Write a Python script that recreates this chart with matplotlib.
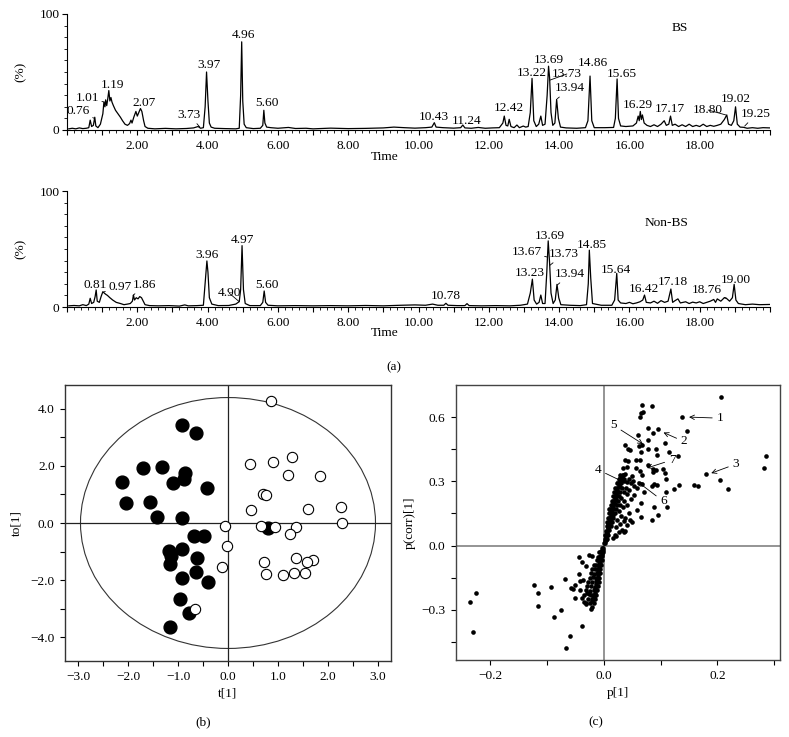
import matplotlib.pyplot as plt
from matplotlib.patches import Ellipse
from matplotlib.ticker import MultipleLocator, FixedLocator, FuncFormatter

plt.rcParams['font.family'] = ['Liberation Serif', 'DejaVu Serif']
plt.rcParams['font.size'] = 9.6

# ---- chromatogram traces (time, intensity %) ----
bs_trace = [(0.05, 1.0), (0.15, 1.5), (0.25, 1.0), (0.35, 1.8), (0.45, 1.2), (0.55, 1.5), (0.62, 2.0),
            (0.66, 8.5), (0.70, 3.0), (0.75, 4.0), (0.79, 11.0), (0.82, 3.5), (0.88, 2.0), (0.95, 5.0),
            (1.02, 14), (1.05, 24), (1.08, 20), (1.10, 26), (1.13, 21), (1.16, 27), (1.19, 34), (1.22, 25),
            (1.25, 28), (1.28, 24), (1.32, 21), (1.38, 17), (1.45, 14), (1.52, 11), (1.58, 8), (1.65, 5),
            (1.72, 4), (1.78, 5.5), (1.82, 8.5), (1.85, 6), (1.90, 11), (1.96, 16), (2.00, 12), (2.04, 15),
            (2.09, 18.5), (2.13, 16), (2.18, 8), (2.22, 3), (2.30, 1.5), (2.50, 1.0), (2.80, 1.4), (3.10, 1.0),
            (3.40, 1.3), (3.60, 1.8), (3.73, 3.0), (3.80, 1.5), (3.88, 2.0), (3.93, 20), (3.97, 50), (4.01, 25),
            (4.05, 6), (4.10, 2.5), (4.20, 1.5), (4.50, 1.2), (4.80, 1.0), (4.90, 1.5), (4.94, 30), (4.97, 76),
            (5.00, 25), (5.04, 5), (5.10, 2), (5.30, 1.2), (5.50, 1.5), (5.57, 4), (5.60, 17), (5.63, 6),
            (5.68, 2.5), (5.80, 2.0), (6.00, 1.5), (6.30, 2.2), (6.50, 1.3), (6.80, 1.5), (7.00, 1.0),
            (7.50, 1.6), (8.00, 1.2), (8.50, 1.4), (9.00, 1.8), (9.30, 2.5), (9.60, 2.0), (9.90, 1.6),
            (10.20, 2.0), (10.38, 2.5), (10.45, 6.3), (10.50, 2.5), (10.70, 2.0), (11.00, 1.6), (11.20, 2.0),
            (11.26, 4.3), (11.32, 1.8), (11.50, 1.5), (11.70, 2.2), (11.90, 1.5), (12.10, 1.8), (12.30, 2.0),
            (12.40, 6), (12.44, 12), (12.49, 4), (12.54, 3.5), (12.58, 9.2), (12.63, 3), (12.72, 2),
            (12.80, 4.3), (12.87, 2), (12.98, 3.4), (13.05, 2.5), (13.12, 3), (13.18, 15), (13.23, 44.5),
            (13.28, 8), (13.35, 3), (13.42, 5), (13.48, 12), (13.53, 4), (13.60, 5), (13.66, 30), (13.70, 55),
            (13.73, 45), (13.77, 15), (13.82, 4), (13.88, 6), (13.93, 26.4), (13.98, 10), (14.04, 2.5),
            (14.20, 1.8), (14.50, 1.5), (14.75, 2), (14.82, 8), (14.88, 46.5), (14.93, 8), (15.00, 2),
            (15.30, 2.0), (15.55, 2.2), (15.60, 10), (15.65, 44), (15.69, 10), (15.75, 3.5), (15.90, 3.0),
            (16.10, 3.5), (16.20, 6), (16.25, 12), (16.28, 8), (16.31, 16), (16.34, 9), (16.37, 13),
            (16.42, 6), (16.50, 4), (16.60, 3), (16.70, 4.5), (16.80, 3), (16.90, 5), (16.99, 8), (17.05, 4),
            (17.12, 5), (17.17, 12), (17.22, 4), (17.30, 5), (17.40, 3), (17.50, 4.5), (17.60, 3), (17.70, 5),
            (17.80, 3), (17.90, 4), (18.00, 3), (18.10, 5), (18.20, 3), (18.30, 4), (18.40, 3.2), (18.50, 4),
            (18.60, 5), (18.70, 9), (18.77, 13), (18.82, 5), (18.90, 4), (18.97, 8), (19.02, 20), (19.07, 5),
            (19.15, 2.5), (19.25, 2.3), (19.35, 1.5), (19.50, 2), (19.65, 1.5), (19.80, 2.0), (20.00, 1.8)]

nonbs_trace = [(0.05, 1.0), (0.20, 1.3), (0.35, 1.0), (0.45, 2.0), (0.55, 1.2), (0.62, 2.5), (0.66, 7.5),
               (0.70, 3), (0.76, 4), (0.80, 9), (0.83, 14.7), (0.86, 5), (0.92, 4), (0.97, 9), (1.02, 13.2),
               (1.06, 12), (1.10, 11), (1.15, 10), (1.22, 8), (1.30, 6), (1.40, 4), (1.52, 3), (1.62, 2.0),
               (1.72, 2.5), (1.80, 3), (1.86, 5), (1.89, 10.3), (1.92, 6), (1.97, 8), (2.02, 7), (2.07, 9),
               (2.12, 8), (2.17, 5), (2.22, 2), (2.35, 1.2), (2.60, 1.0), (2.90, 1.2), (3.20, 0.8), (3.35, 1.8),
               (3.45, 1.0), (3.70, 1.2), (3.88, 1.5), (3.94, 25), (3.98, 39.7), (4.01, 30), (4.05, 8),
               (4.12, 2.5), (4.30, 1.2), (4.60, 1.3), (4.80, 2.5), (4.90, 4.6), (4.94, 15), (4.98, 52.9),
               (5.02, 15), (5.07, 3), (5.20, 1.2), (5.50, 1.2), (5.57, 4), (5.61, 13.8), (5.65, 4), (5.72, 1.5),
               (6.00, 1.0), (6.50, 1.2), (7.00, 1.0), (7.50, 1.2), (8.00, 1.0), (8.50, 1.3), (9.00, 1.0),
               (9.50, 1.5), (9.90, 1.8), (10.20, 1.5), (10.40, 2.5), (10.55, 1.5), (10.72, 1.5), (10.78, 3.2),
               (10.84, 1.5), (11.10, 1.2), (11.32, 1.2), (11.38, 2.9), (11.44, 1.2), (11.80, 1.0), (12.20, 1.2),
               (12.60, 1.0), (12.90, 1.5), (13.10, 2.5), (13.18, 12), (13.24, 24), (13.29, 6), (13.36, 2.5),
               (13.43, 4), (13.48, 10.3), (13.53, 3), (13.60, 3), (13.65, 30), (13.69, 57), (13.73, 37.6),
               (13.77, 12), (13.83, 3), (13.89, 6), (13.94, 19.5), (13.99, 8), (14.05, 2), (14.30, 1.5),
               (14.60, 1.2), (14.78, 2), (14.83, 20), (14.86, 49), (14.90, 25), (14.95, 3), (15.20, 1.5),
               (15.50, 1.5), (15.58, 6), (15.64, 29), (15.68, 6), (15.75, 3.5), (15.90, 3), (16.00, 4),
               (16.10, 2.8), (16.20, 3.5), (16.30, 4.5), (16.38, 6), (16.43, 10.3), (16.48, 4), (16.60, 3.5),
               (16.70, 5), (16.80, 3.2), (16.90, 5.5), (17.00, 4), (17.10, 5), (17.18, 15.5), (17.23, 4),
               (17.30, 5.5), (17.38, 7), (17.45, 3.5), (17.60, 4.5), (17.70, 3), (17.80, 4.2), (17.90, 3.5),
               (18.00, 4.5), (18.10, 3), (18.20, 4), (18.30, 5), (18.40, 6.5), (18.45, 4), (18.50, 7),
               (18.60, 5), (18.70, 8), (18.76, 7.5), (18.85, 5), (18.93, 8), (18.98, 19.5), (19.03, 6),
               (19.10, 3), (19.30, 2), (19.50, 2.5), (19.70, 2), (20.00, 2.2)]

# peak labels: (text, label time, label height, leader target or None)
bs_labels = [("0.76", 0.32, 16.4, (0.78, 10)), ("1.01", 0.58, 27.8, (1.07, 24)), ("1.19", 1.31, 38.8, None),
             ("2.07", 2.19, 23, None), ("3.73", 3.48, 13, (3.78, 2.5)), ("3.97", 4.05, 56, None),
             ("4.96", 5.03, 82, None), ("5.60", 5.68, 23, None), ("10.43", 10.43, 11.5, None),
             ("11.24", 11.38, 8, None), ("12.42", 12.56, 18.7, None), ("13.22", 13.22, 49.4, None),
             ("13.69", 13.72, 60.3, None), ("13.73", 14.22, 48.3, (13.74, 43)),
             ("13.94", 14.31, 36, (13.95, 27)), ("14.86", 14.96, 57.5, None), ("15.65", 15.78, 48, None),
             ("16.29", 16.23, 21.5, None), ("17.17", 17.15, 17.8, None), ("18.80", 18.24, 17.2, (18.74, 13)),
             ("19.02", 19.04, 26.4, None), ("19.25", 19.61, 13.8, (19.28, 3.4))]

nonbs_labels = [("0.81", 0.79, 19, None), ("0.97", 1.50, 17.5, (1.05, 13)), ("1.86", 2.21, 19, (1.88, 10)),
                ("3.96", 3.98, 44.8, None), ("4.90", 4.62, 11.8, (4.90, 4.6)), ("4.97", 5.0, 57.8, None),
                ("5.60", 5.68, 19, None), ("10.78", 10.77, 9.5, None), ("13.23", 13.18, 29, None),
                ("13.67", 13.08, 47.7, (13.67, 43)), ("13.69", 13.74, 61.2, None),
                ("13.73", 14.14, 45.7, (13.74, 36)), ("13.94", 14.31, 28.4, (13.95, 19)),
                ("14.85", 14.93, 53.4, None), ("15.64", 15.62, 31.9, None), ("16.42", 16.41, 15.5, None),
                ("17.18", 17.23, 21.8, None), ("18.76", 18.19, 14.7, (18.76, 7.5)), ("19.00", 19.04, 23.3, None)]

# ---- OPLS-DA score plot ----
bs_t1 = [-0.93, -0.65, -1.71, -1.33, -0.87, -0.88, -2.13, -1.11, -0.43, -2.04, -1.57, -1.43, -0.92, -0.69,
         -0.49, -0.92, -1.19, -1.14, -0.63, -1.16, -0.64, -0.92, -0.41, -0.97, -0.79, -1.16, 0.79]
bs_to1 = [3.42, 3.15, 1.92, 1.98, 1.77, 1.54, 1.43, 1.40, 1.23, 0.71, 0.74, 0.22, 0.19, -0.47,
          -0.47, -0.92, -0.99, -1.15, -1.24, -1.44, -1.72, -1.93, -2.07, -2.67, -3.17, -3.66, -0.19]
non_t1 = [0.85, 0.44, 0.90, 1.27, 1.19, 1.84, 0.70, 0.75, 0.45, 1.60, 2.25, 2.27, -0.06, 0.65, 0.93, 1.36,
          1.23, -0.03, 1.36, 1.70, 1.58, 0.71, -0.13, 0.75, 1.09, 1.31, 1.54, -0.67]
non_to1 = [4.28, 2.08, 2.13, 2.30, 1.68, 1.65, 1.03, 0.97, 0.47, 0.50, 0.57, 0.01, -0.12, -0.12, -0.15, -0.13,
           -0.39, -0.82, -1.22, -1.30, -1.38, -1.38, -1.53, -1.79, -1.82, -1.74, -1.74, -3.02]

# ---- S-plot: (p[1], p(corr)[1]) ----
splot_upper = [(0.206, 0.692), (0.067, 0.657), (0.084, 0.651), (0.065, 0.618), (0.064, 0.600), (0.069, 0.626),
               (0.137, 0.600), (0.147, 0.537), (0.077, 0.551), (0.096, 0.544), (0.087, 0.528), (0.108, 0.478),
               (0.061, 0.517), (0.078, 0.494), (0.067, 0.470), (0.062, 0.466), (0.038, 0.469), (0.046, 0.447),
               (0.042, 0.450), (0.065, 0.439), (0.077, 0.450), (0.092, 0.450), (0.115, 0.439), (0.093, 0.421),
               (0.130, 0.417), (0.037, 0.400), (0.043, 0.396), (0.056, 0.400), (0.064, 0.399), (0.077, 0.377),
               (0.034, 0.364), (0.040, 0.369), (0.057, 0.361), (0.064, 0.349), (0.087, 0.358), (0.091, 0.354),
               (0.086, 0.343), (0.105, 0.358), (0.108, 0.338), (0.033, 0.330), (0.038, 0.333), (0.030, 0.315),
               (0.050, 0.327), (0.067, 0.330), (0.109, 0.310), (0.180, 0.333), (0.205, 0.307), (0.218, 0.262),
               (0.158, 0.283), (0.165, 0.279), (0.132, 0.283), (0.124, 0.265), (0.089, 0.288), (0.094, 0.283),
               (0.085, 0.277), (0.109, 0.252), (0.285, 0.416), (0.281, 0.364), (0.068, 0.287), (0.062, 0.290),
               (0.054, 0.280), (0.058, 0.268), (0.071, 0.249), (0.054, 0.237), (0.065, 0.198), (0.089, 0.181),
               (0.111, 0.178), (0.059, 0.165), (0.095, 0.143), (0.084, 0.121), (0.066, 0.131), (0.046, 0.120),
               (0.049, 0.112), (0.032, 0.073), (0.037, 0.069), (0.020, 0.047), (0.044, 0.150), (0.041, 0.190),
               (0.047, 0.217), (0.009, 0.171), (0.013, 0.162), (0.016, 0.143), (0.036, 0.300), (0.041, 0.295),
               (0.045, 0.310), (0.048, 0.290), (0.039, 0.270), (0.044, 0.260), (0.035, 0.250), (0.040, 0.240),
               (0.031, 0.220), (0.036, 0.210), (0.028, 0.190), (0.033, 0.180), (0.052, 0.300), (0.027, 0.160),
               (0.030, 0.140), (0.024, 0.120), (0.028, 0.100), (0.035, 0.115), (0.038, 0.130), (0.040, 0.095),
               (0.022, 0.085), (0.026, 0.062), (0.017, 0.035), (0.021, 0.045), (0.036, 0.065)]
splot_band_pos = [(0.001, 0.01), (0.003, 0.012), (0.002, 0.03), (0.004, 0.028), (0.006, 0.032), (0.003, 0.05),
                  (0.005, 0.052), (0.008, 0.048), (0.004, 0.07), (0.006, 0.068), (0.009, 0.072), (0.005, 0.09),
                  (0.007, 0.088), (0.010, 0.092), (0.013, 0.09), (0.006, 0.11), (0.009, 0.108), (0.012, 0.112),
                  (0.015, 0.11), (0.008, 0.13), (0.010, 0.128), (0.013, 0.132), (0.017, 0.13), (0.009, 0.15),
                  (0.012, 0.148), (0.015, 0.152), (0.019, 0.15), (0.011, 0.17), (0.014, 0.168), (0.017, 0.172),
                  (0.021, 0.17), (0.012, 0.19), (0.015, 0.188), (0.019, 0.192), (0.023, 0.19), (0.014, 0.21),
                  (0.017, 0.208), (0.021, 0.212), (0.025, 0.21), (0.016, 0.23), (0.019, 0.228), (0.023, 0.232),
                  (0.027, 0.23), (0.018, 0.25), (0.021, 0.248), (0.025, 0.252), (0.029, 0.25), (0.020, 0.27),
                  (0.024, 0.268), (0.028, 0.272), (0.032, 0.27), (0.023, 0.29), (0.027, 0.288), (0.031, 0.292),
                  (0.026, 0.31), (0.030, 0.308), (0.035, 0.312), (0.029, 0.33), (0.034, 0.328),
                  (0.002, 0.02), (0.004, 0.04), (0.005, 0.06), (0.007, 0.08), (0.008, 0.10), (0.011, 0.12),
                  (0.012, 0.14), (0.013, 0.16), (0.016, 0.18), (0.018, 0.20), (0.020, 0.22), (0.022, 0.24),
                  (0.023, 0.26), (0.026, 0.28), (0.029, 0.30), (0.032, 0.32)]
splot_band_neg = [(-0.001, -0.01), (-0.003, -0.012), (-0.002, -0.03), (-0.005, -0.028), (-0.008, -0.032),
                  (-0.003, -0.05), (-0.006, -0.048), (-0.010, -0.052), (-0.004, -0.07), (-0.008, -0.072),
                  (-0.012, -0.068), (-0.005, -0.09), (-0.009, -0.088), (-0.014, -0.092), (-0.018, -0.09),
                  (-0.006, -0.11), (-0.011, -0.112), (-0.016, -0.108), (-0.020, -0.11), (-0.007, -0.13),
                  (-0.012, -0.128), (-0.017, -0.132), (-0.022, -0.13), (-0.008, -0.15), (-0.013, -0.152),
                  (-0.019, -0.148), (-0.025, -0.15), (-0.009, -0.17), (-0.014, -0.168), (-0.020, -0.172),
                  (-0.027, -0.17), (-0.010, -0.19), (-0.016, -0.192), (-0.022, -0.188), (-0.029, -0.19),
                  (-0.012, -0.21), (-0.017, -0.208), (-0.024, -0.212), (-0.031, -0.21), (-0.013, -0.23),
                  (-0.019, -0.232), (-0.026, -0.228), (-0.034, -0.23), (-0.015, -0.25), (-0.021, -0.248),
                  (-0.028, -0.252), (-0.017, -0.27), (-0.024, -0.268), (-0.031, -0.272),
                  (-0.002, -0.02), (-0.004, -0.04), (-0.006, -0.06), (-0.007, -0.08), (-0.008, -0.10),
                  (-0.010, -0.12), (-0.011, -0.14), (-0.012, -0.16), (-0.013, -0.18), (-0.015, -0.20),
                  (-0.016, -0.22), (-0.018, -0.24), (-0.020, -0.26)]
splot_lower = [(-0.225, -0.223), (-0.235, -0.266), (-0.230, -0.402), (-0.122, -0.184), (-0.115, -0.223),
               (-0.115, -0.282), (-0.093, -0.195), (-0.088, -0.332), (-0.075, -0.301), (-0.068, -0.157),
               (-0.060, -0.422), (-0.067, -0.478), (-0.039, -0.374), (-0.043, -0.055), (-0.039, -0.079),
               (-0.026, -0.044), (-0.020, -0.051), (-0.032, -0.095), (-0.044, -0.134), (-0.051, -0.184),
               (-0.058, -0.199), (-0.054, -0.204), (-0.041, -0.168), (-0.036, -0.160), (-0.042, -0.210),
               (-0.051, -0.243), (-0.039, -0.243), (-0.035, -0.262), (-0.032, -0.269), (-0.023, -0.298),
               (-0.020, -0.288), (-0.029, -0.223), (-0.023, -0.232)]

# marker labels 1-7: (label, text x, text y, point x, point y)
splot_marks = [("1", 0.204, 0.595, 0.150, 0.600), ("2", 0.141, 0.486, 0.105, 0.528),
               ("3", 0.232, 0.380, 0.189, 0.338), ("4", -0.010, 0.354, 0.033, 0.299),
               ("5", 0.0175, 0.561, 0.069, 0.474), ("6", 0.105, 0.206, 0.059, 0.299),
               ("7", 0.120, 0.400, 0.076, 0.362)]

W, H = 789, 737
fig = plt.figure(figsize=(W / 100, H / 100), dpi=100)


def fax(l, t, r, b):
    # axes from pixel box
    return fig.add_axes([l / W, 1 - b / H, (r - l) / W, (b - t) / H])


def chrom(ax, trace, labels, tag, tag_pos):
    t = [p[0] for p in trace]
    y = [p[1] for p in trace]
    ax.plot(t, y, color='black', lw=0.9)
    ax.set_xlim(0, 20)
    ax.set_ylim(0, 100)
    ax.spines['top'].set_visible(False)
    ax.spines['right'].set_visible(False)
    ax.xaxis.set_major_locator(MultipleLocator(1))
    ax.xaxis.set_minor_locator(MultipleLocator(0.2))
    ax.xaxis.set_major_formatter(FuncFormatter(lambda v, p: f"{v:.2f}" if round(v) % 2 == 0 and 0 < v < 20 else ""))
    ax.yaxis.set_major_locator(FixedLocator([0, 100]))
    ax.yaxis.set_minor_locator(MultipleLocator(10))
    ax.tick_params(axis='x', which='major', length=3.5, pad=4, width=0.8)
    ax.tick_params(axis='x', which='minor', length=2, width=0.6)
    ax.tick_params(axis='y', which='major', length=3.5, pad=2, width=0.8)
    ax.tick_params(axis='y', which='minor', length=2.5, width=0.6)
    ax.set_ylabel("(%)", labelpad=9)
    for txt, tx, ty, tgt in labels:
        if tgt is None:
            ax.text(tx, ty, txt, ha='center', va='center')
        else:
            ax.annotate(txt, xy=tgt, xytext=(tx, ty), ha='center', va='center',
                        arrowprops=dict(arrowstyle='-', lw=0.6, color='black', shrinkA=0, shrinkB=0))
    ax.text(tag_pos[0], tag_pos[1], tag, ha='center', va='center')


ax1 = fax(67, 14, 770, 130)
chrom(ax1, bs_trace, bs_labels, "BS", (17.43, 87.6))
fig.text(385 / W, 1 - 157 / H, "Time", ha='center', va='center')

ax2 = fax(67, 191, 770, 307)
chrom(ax2, nonbs_trace, nonbs_labels, "Non-BS", (17.06, 72))
fig.text(385 / W, 1 - 333 / H, "Time", ha='center', va='center')

fig.text(394 / W, 1 - 367 / H, "(a)", ha='center', va='center')

minus_fmt = FuncFormatter(lambda v, p: f"{v:.1f}".replace('-', '\u2212'))

# ---- (b) score plot ----
axb = fax(65, 385, 391, 661)
axb.set_xlim(-3.26, 3.26)
axb.set_ylim(-4.84, 4.84)
axb.add_patch(Ellipse((0, 0), 5.9, 8.8, fill=False, ec='#333333', lw=0.8))
axb.axvline(0, color='#222222', lw=0.9)
axb.axhline(0, color='#222222', lw=0.9)
axb.scatter(bs_t1, bs_to1, s=85, color='black', zorder=3)
axb.scatter(non_t1, non_to1, s=55, facecolors='white', edgecolors='black', linewidths=0.8, zorder=3)
axb.xaxis.set_major_locator(FixedLocator([-3, -2, -1, 0, 1, 2, 3]))
axb.xaxis.set_minor_locator(MultipleLocator(0.5))
axb.yaxis.set_major_locator(FixedLocator([-4, -2, 0, 2, 4]))
axb.yaxis.set_minor_locator(MultipleLocator(1))
axb.xaxis.set_major_formatter(minus_fmt)
axb.yaxis.set_major_formatter(minus_fmt)
axb.tick_params(which='both', length=3.5, width=0.8, pad=4)
axb.set_xlabel("t[1]", labelpad=3)
axb.set_ylabel("to[1]", labelpad=6)
for s in axb.spines.values():
    s.set_color('#333333')
    s.set_linewidth(1.0)
fig.text(203 / W, 1 - 722 / H, "(b)", ha='center', va='center')

# ---- (c) S-plot ----
axc = fax(456, 385, 780, 660)
axc.set_xlim(-0.26, 0.31)
axc.set_ylim(-0.535, 0.75)
axc.axvline(0, color='#777777', lw=1.1)
axc.axhline(0, color='#777777', lw=1.1)
for grp in (splot_upper, splot_band_pos, splot_band_neg, splot_lower):
    axc.scatter([p[0] for p in grp], [p[1] for p in grp], s=11, color='black', linewidths=0, zorder=3)
for lab, tx, ty, px, py in splot_marks:
    axc.annotate(lab, xy=(px, py), xytext=(tx, ty), ha='center', va='center',
                 arrowprops=dict(arrowstyle='->', lw=0.6, color='black', shrinkA=1, shrinkB=0,
                                 mutation_scale=8), zorder=4)
axc.xaxis.set_major_locator(FixedLocator([-0.2, 0.0, 0.2]))
axc.xaxis.set_minor_locator(FixedLocator([-0.1, 0.1, 0.3]))
axc.yaxis.set_major_locator(FixedLocator([-0.3, 0.0, 0.3, 0.6]))
axc.yaxis.set_minor_locator(FixedLocator([-0.45, -0.15, 0.15, 0.45]))
axc.xaxis.set_major_formatter(minus_fmt)
axc.yaxis.set_major_formatter(minus_fmt)
axc.tick_params(which='both', length=3.5, width=0.8, pad=4)
axc.set_xlabel("p[1]", labelpad=3)
axc.set_ylabel("p(corr)[1]", labelpad=4)
for s in axc.spines.values():
    s.set_color('#444444')
    s.set_linewidth(1.0)
fig.text(596 / W, 1 - 722 / H, "(c)", ha='center', va='center')

fig.savefig("out.png", dpi=100)
